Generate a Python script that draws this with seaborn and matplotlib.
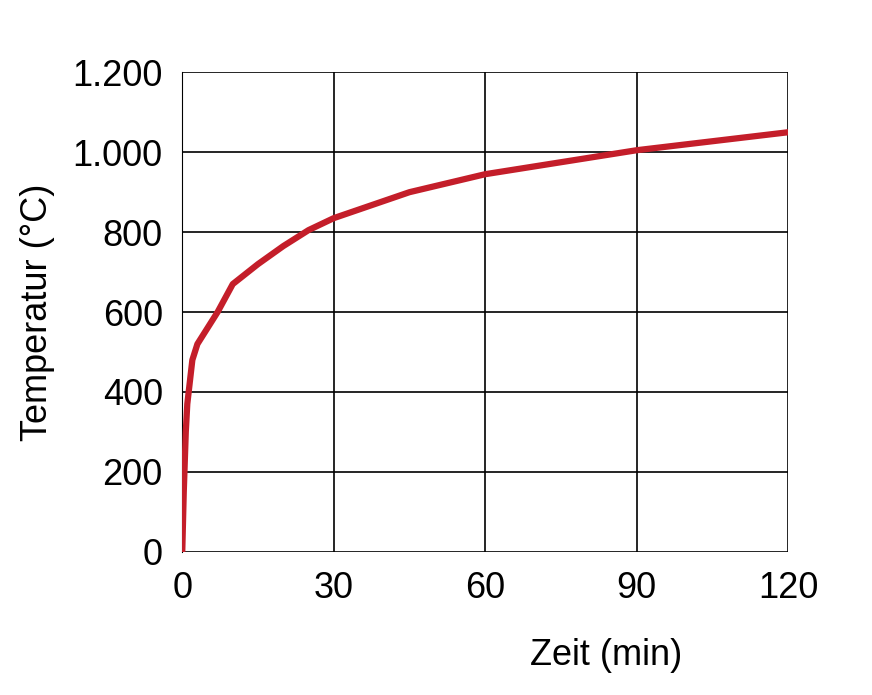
import matplotlib
matplotlib.use("Agg")
import matplotlib.pyplot as plt
import seaborn as sns
import pandas as pd

# values
zeit = [0, 0.3, 0.7, 1, 2, 3, 5, 7, 10, 15, 20, 25, 30, 45, 60, 90, 120]
temperatur = [0, 150, 300, 370, 480, 520, 560, 600, 670, 720, 765, 805, 835, 900, 945, 1005, 1050]
x_ticks = [0, 30, 60, 90, 120]
y_ticks = [0, 200, 400, 600, 800, 1000, 1200]
y_labels = ["0", "200", "400", "600", "800", "1.000", "1.200"]

df = pd.DataFrame({"zeit": zeit, "temp": temperatur})

sns.set_style("white")
plt.rcParams["font.family"] = ["Liberation Sans", "DejaVu Sans"]

fig = plt.figure(figsize=(8.72, 6.95), dpi=100)
ax = fig.add_axes([0.209, 0.206, 0.695, 0.69])

sns.lineplot(data=df, x="zeit", y="temp", color="#c41e2a", linewidth=4.5, ax=ax, zorder=3)

ax.set_xlim(0, 120)
ax.set_ylim(0, 1200)
ax.set_xticks(x_ticks)
ax.set_yticks(y_ticks)
ax.set_yticklabels(y_labels)
ax.grid(True, color="black", linewidth=1.2)
for s in ax.spines.values():
    s.set_visible(False)
ax.spines["left"].set_visible(True)
ax.spines["left"].set_color("black")
ax.tick_params(axis="both", length=0, labelsize=26, pad=14, labelcolor="black")

ax.set_xlabel("Zeit (min)", fontsize=26, color="black")
ax.xaxis.set_label_coords(0.7, -0.18)
ax.set_ylabel("Temperatur (°C)", fontsize=26, color="black")
ax.yaxis.set_label_coords(-0.21, 0.5)

fig.savefig("out.png", dpi=100)
